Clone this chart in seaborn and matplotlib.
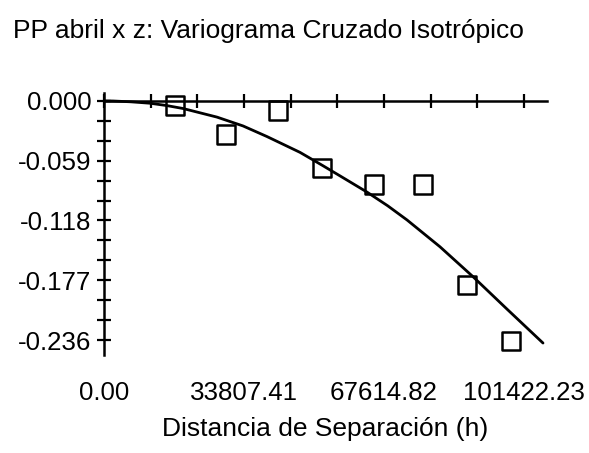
import numpy as np
import matplotlib
matplotlib.use("Agg")
import matplotlib.pyplot as plt
from matplotlib.ticker import FixedLocator
import seaborn as sns

# experimental cross-variogram (lag distance, value)
lag_h = [17145, 29461, 42018, 52643, 65200, 77032, 87657, 98283]
gamma_exp = [-0.0049, -0.0336, -0.0099, -0.0662, -0.0829, -0.0829, -0.1817, -0.2370]

# fitted model curve
model_h = [0, 2200, 6500, 11108, 15000, 19077, 27287, 33566, 39361, 47330, 52884, 56989,
           63509, 68500, 73168, 81137, 89106, 97316, 106010]
model_gamma = [0.0, -0.0001, -0.0009, -0.0023, -0.0045, -0.0075, -0.0160, -0.0247, -0.0352,
               -0.0508, -0.0640, -0.0740, -0.0900, -0.1035, -0.1175, -0.1440, -0.1735,
               -0.2055, -0.2390]

x_ticks = [0.0, 33807.41, 67614.82, 101422.23]
x_tick_labels = ["0.00", "33807.41", "67614.82", "101422.23"]
y_ticks = [0.0, -0.059, -0.118, -0.177, -0.236]
y_tick_labels = ["0.000", "-0.059", "-0.118", "-0.177", "-0.236"]

sns.set_style("white")
plt.rcParams['font.family'] = ['Liberation Sans', 'DejaVu Sans']
plt.rcParams['text.color'] = 'black'
plt.rcParams['axes.labelcolor'] = 'black'

fig = plt.figure(figsize=(5.89, 4.53), dpi=100)
ax = fig.add_axes([104 / 589, 98 / 453, (547 - 104) / 589, (360 - 98) / 453])

sns.lineplot(x=model_h, y=model_gamma, ax=ax, color="black", linewidth=2.0, sort=False)
sns.scatterplot(x=lag_h, y=gamma_exp, ax=ax, marker="s", s=185,
                facecolor="none", edgecolor="black", linewidth=1.8, zorder=3)

ax.set_xlim(0, 106976)
ax.set_ylim(-0.2508, 0.0078)

for s in ["top", "right"]:
    ax.spines[s].set_visible(False)
ax.spines["left"].set_position(("data", 0))
ax.spines["bottom"].set_position(("data", 0))
for s in ["left", "bottom"]:
    ax.spines[s].set_linewidth(1.8)
    ax.spines[s].set_color("black")

ax.xaxis.set_major_locator(FixedLocator(x_ticks))
ax.set_xticklabels(x_tick_labels)
x_step = x_ticks[1] / 3
ax.xaxis.set_minor_locator(FixedLocator([x_step * k for k in range(1, 10) if k % 3]))
ax.yaxis.set_major_locator(FixedLocator(y_ticks))
ax.set_yticklabels(y_tick_labels)
y_step = y_ticks[1] / 3
ax.yaxis.set_minor_locator(FixedLocator([y_step * k for k in range(1, 13) if k % 3]))

ax.tick_params(axis="both", which="both", direction="inout", length=10, width=1.6,
               color="black", labelsize=18.6, labelcolor="black",
               bottom=True, left=True, top=False, right=False)
ax.tick_params(axis="x", which="major", pad=197)
ax.tick_params(axis="y", which="major", pad=4)
ax.grid(False)

ax.set_xlabel("Distancia de Separación (h)", fontsize=19, labelpad=8, color="black")
ax.set_ylabel("")

fig.text(13 / 589, 1 - 37.7 / 453, "PP abril x z: Variograma Cruzado Isotrópico",
         fontsize=19, va="baseline", ha="left", color="black")

fig.savefig("out.png", dpi=100)
